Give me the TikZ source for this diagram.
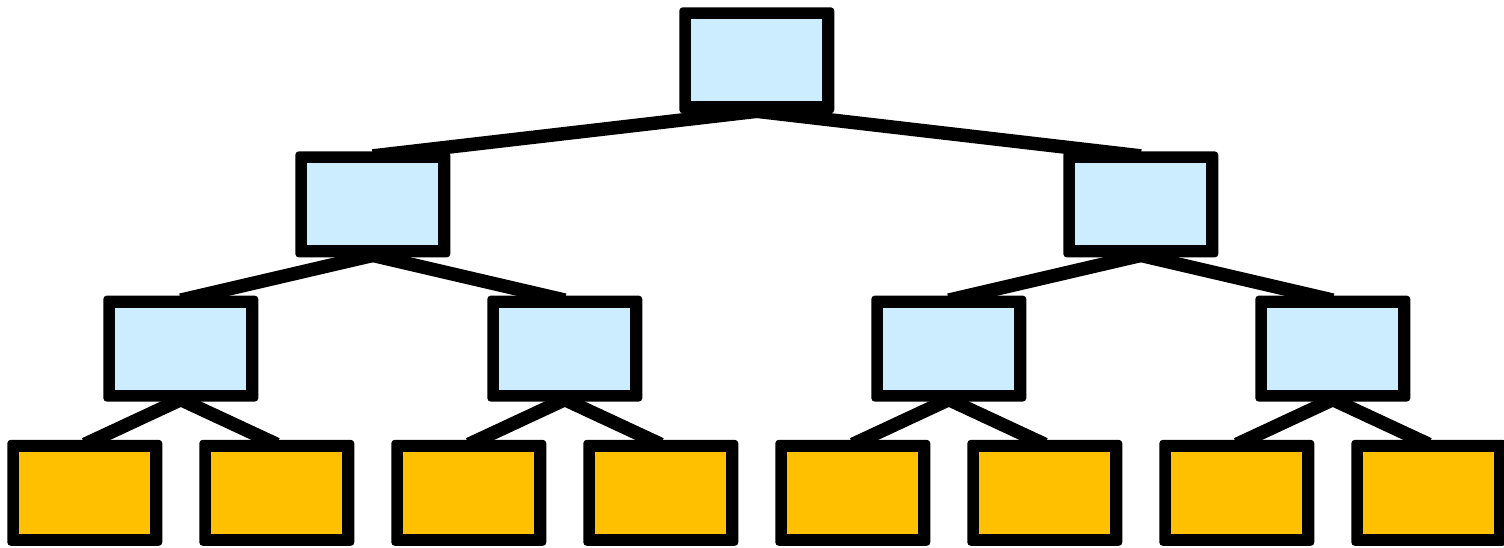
\documentclass[tikz,border=0pt]{standalone}
\usetikzlibrary{backgrounds,calc}
\definecolor{branchfill}{RGB}{204,236,255}
\definecolor{leaffill}{RGB}{255,192,0}
\tikzset{
  framebox/.style={shape=rectangle, minimum width=155pt, minimum height=106pt,
    inner sep=0pt, outer sep=0pt, fill=black, rounded corners=3.5pt,
    path picture={\fill[#1, sharp corners]
      ([shift={(12pt,12pt)}]path picture bounding box.south west) rectangle
      ([shift={(-12pt,-12pt)}]path picture bounding box.north east);}},
  branchbox/.style={framebox=branchfill},
  leafbox/.style={framebox=leaffill},
  link/.style={line width=13.5pt, black}
}
\begin{document}
\begin{tikzpicture}[x=1pt, y=-1pt]
  \useasboundingbox (0,0) rectangle (1504,547);
  % root and inner levels (heap numbering: children of n_i are n_{2i}, n_{2i+1})
  \node[branchbox] (n1) at (756.8,60.3) {};
  \node[branchbox] (n2) at (372.8,204.4) {};
  \node[branchbox] (n3) at (1140.8,204.4) {};
  \node[branchbox] (n4) at (180.8,348.6) {};
  \node[branchbox] (n5) at (564.8,348.6) {};
  \node[branchbox] (n6) at (948.8,348.6) {};
  \node[branchbox] (n7) at (1332.8,348.6) {};
  % leaves
  \node[leafbox] (n8)  at (84.8,492.8) {};
  \node[leafbox] (n9)  at (276.8,492.8) {};
  \node[leafbox] (n10) at (468.8,492.8) {};
  \node[leafbox] (n11) at (660.8,492.8) {};
  \node[leafbox] (n12) at (852.8,492.8) {};
  \node[leafbox] (n13) at (1044.8,492.8) {};
  \node[leafbox] (n14) at (1236.8,492.8) {};
  \node[leafbox] (n15) at (1428.8,492.8) {};
  % connectors, behind the boxes: from just inside the parent's bottom edge
  % to just inside the child's top edge
  \begin{scope}[on background layer]
    \foreach \i [evaluate=\i as \p using {int(\i/2)}] in {2,...,15}
      \draw[link] ($(n\p.south)+(0,-2)$) -- ($(n\i.north)+(0,4.5)$);
  \end{scope}
\end{tikzpicture}
\end{document}
